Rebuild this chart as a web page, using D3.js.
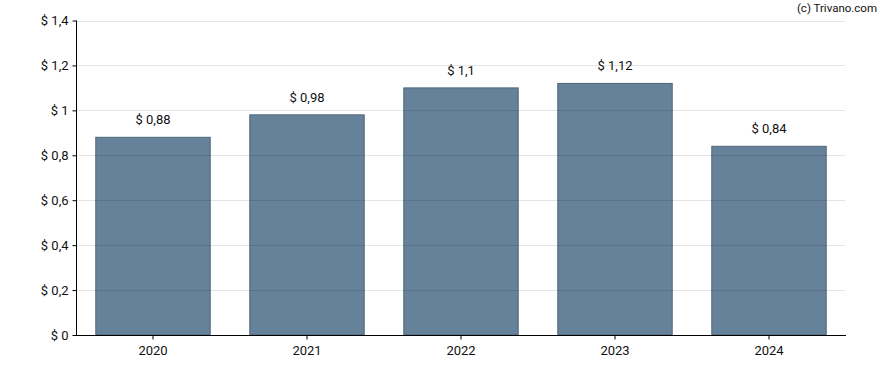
<!DOCTYPE html>
<html>
<head>
<meta charset="utf-8">
<script src="https://cdn.jsdelivr.net/npm/d3@7"></script>
<style>
  body { margin: 0; background: #fff; }
  text { font-family: Roboto, Arial, sans-serif; fill: #111; }
</style>
</head>
<body>
<div id="chart"></div>
<script>
const years = ["2020", "2021", "2022", "2023", "2024"];
const values = [0.88, 0.98, 1.1, 1.12, 0.84];
const yTicks = [0, 0.2, 0.4, 0.6, 0.8, 1, 1.2, 1.4];

const width = 888, height = 370;
const plotLeft = 76, plotRight = 846, plotTop = 20.5, plotBottom = 335;

const fmt = v => "$ " + String(+v.toFixed(2)).replace(".", ",");

const svg = d3.select("#chart").append("svg")
    .attr("width", width)
    .attr("height", height);

const x = d3.scaleBand()
    .domain(years)
    .range([plotLeft, plotRight])
    .paddingInner(0.257)
    .paddingOuter(0.1285);

const y = d3.scaleLinear()
    .domain([0, 1.4])
    .range([plotBottom, plotTop]);

// bars
svg.append("g")
    .selectAll("rect")
    .data(values)
    .enter()
    .append("rect")
    .attr("x", (d, i) => x(years[i]))
    .attr("y", d => y(d))
    .attr("width", x.bandwidth())
    .attr("height", d => plotBottom - y(d))
    .attr("fill", "#66829a")
    .attr("stroke", "#4d667b")
    .attr("stroke-width", 1);

// gridlines (drawn over the bars, faintly visible through them)
svg.append("g")
    .selectAll("line")
    .data(yTicks.slice(1))
    .enter()
    .append("line")
    .attr("x1", plotLeft)
    .attr("x2", plotRight - 1)
    .attr("y1", d => Math.round(y(d)) + 0.5)
    .attr("y2", d => Math.round(y(d)) + 0.5)
    .attr("stroke", "#000")
    .attr("stroke-opacity", 0.1)
    .attr("stroke-width", 1);

// value labels
svg.append("g")
    .selectAll("text")
    .data(values)
    .enter()
    .append("text")
    .attr("x", (d, i) => x(years[i]) + x.bandwidth() / 2)
    .attr("y", d => y(d) - 13)
    .attr("text-anchor", "middle")
    .attr("font-size", 13)
    .text(d => fmt(d));

// y axis
const yAxis = svg.append("g")
    .attr("transform", "translate(" + (plotLeft + 0.5) + ",0)")
    .call(d3.axisLeft(y).tickValues(yTicks).tickSize(4).tickPadding(4).tickFormat(fmt));
yAxis.select(".domain").attr("stroke", "#000").attr("d", "M0," + plotTop + "V" + plotBottom);
yAxis.selectAll("text").attr("font-size", 13).attr("font-family", "Roboto, Arial, sans-serif").attr("fill", "#111");

// x axis
const xAxis = svg.append("g")
    .attr("transform", "translate(0," + (plotBottom + 0.5) + ")")
    .call(d3.axisBottom(x).tickSize(4).tickPadding(6));
xAxis.select(".domain").attr("stroke", "#000").attr("d", "M" + plotLeft + ",0H" + plotRight);
xAxis.selectAll("text").attr("font-size", 13).attr("font-family", "Roboto, Arial, sans-serif").attr("fill", "#111");

// credit
svg.append("text")
    .attr("x", 877)
    .attr("y", 12)
    .attr("text-anchor", "end")
    .attr("font-size", 11.5)
    .text("(c) Trivano.com");
</script>
</body>
</html>
